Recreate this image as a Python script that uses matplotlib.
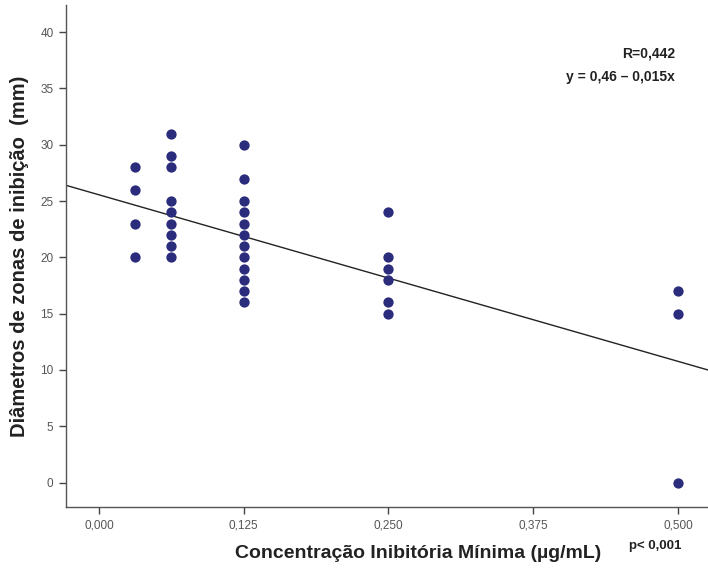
"""
Scatter of inhibition zone diameter vs minimum inhibitory concentration
"""

import matplotlib.pyplot as plt

plt.rcParams['font.family'] = ['Liberation Sans', 'DejaVu Sans']

# data
cim = ([0.03125] * 4 + [0.0625] * 9 + [0.125] * 12 + [0.25] * 6 + [0.5] * 3)
diametro = ([20, 23, 26, 28] +
            [20, 21, 22, 23, 24, 25, 28, 29, 31] +
            [16, 17, 18, 19, 20, 21, 22, 23, 24, 25, 27, 30] +
            [15, 16, 18, 19, 20, 24] +
            [0, 15, 17])

# fitted line as drawn (value at left and right edge of the plot)
line_x = [-0.0285, 0.526]
line_y = [26.4, 10.0]

x_ticks = [0.0, 0.125, 0.25, 0.375, 0.5]
x_labels = ['0,000', '0,125', '0,250', '0,375', '0,500']
y_ticks = [0, 5, 10, 15, 20, 25, 30, 35, 40]

fig = plt.figure(figsize=(7.08, 5.72), dpi=100)
ax = fig.add_axes([0.0932, 0.1136, 0.9068, 0.8774])

ax.scatter(cim, diametro, s=55, color='#2b2d7c', zorder=3, linewidths=0)
ax.plot(line_x, line_y, color='#222222', linewidth=1.0, zorder=2)

ax.set_xlim(-0.0285, 0.526)
ax.set_ylim(-2.17, 42.4)
ax.set_xticks(x_ticks)
ax.set_xticklabels(x_labels)
ax.set_yticks(y_ticks)

for s in ['top', 'right']:
    ax.spines[s].set_visible(False)
for s in ['left', 'bottom']:
    ax.spines[s].set_color('#555555')
    ax.spines[s].set_linewidth(1.0)
ax.tick_params(axis='both', direction='out', length=5, width=1.0,
               color='#444444', labelcolor='#555555', labelsize=8.5, pad=4)

ax.set_ylabel('Diâmetros de zonas de inibição  (mm)', fontsize=14.5,
              fontweight='bold', color='#222222', labelpad=8)
fig.text(0.59, 0.033, 'Concentração Inibitória Mínima (µg/mL)', fontsize=14,
         fontweight='bold', color='#222222', ha='center', va='center')
fig.text(0.925, 0.045, 'p< 0,001', fontsize=9.5, fontweight='bold',
         color='#222222', ha='center', va='center')

fig.text(0.953, 0.907, 'R=0,442', fontsize=10, fontweight='bold',
         color='#222222', ha='right', va='center')
fig.text(0.953, 0.865, 'y = 0,46 – 0,015x', fontsize=10, fontweight='bold',
         color='#222222', ha='right', va='center')

plt.savefig('out.png', dpi=100)
